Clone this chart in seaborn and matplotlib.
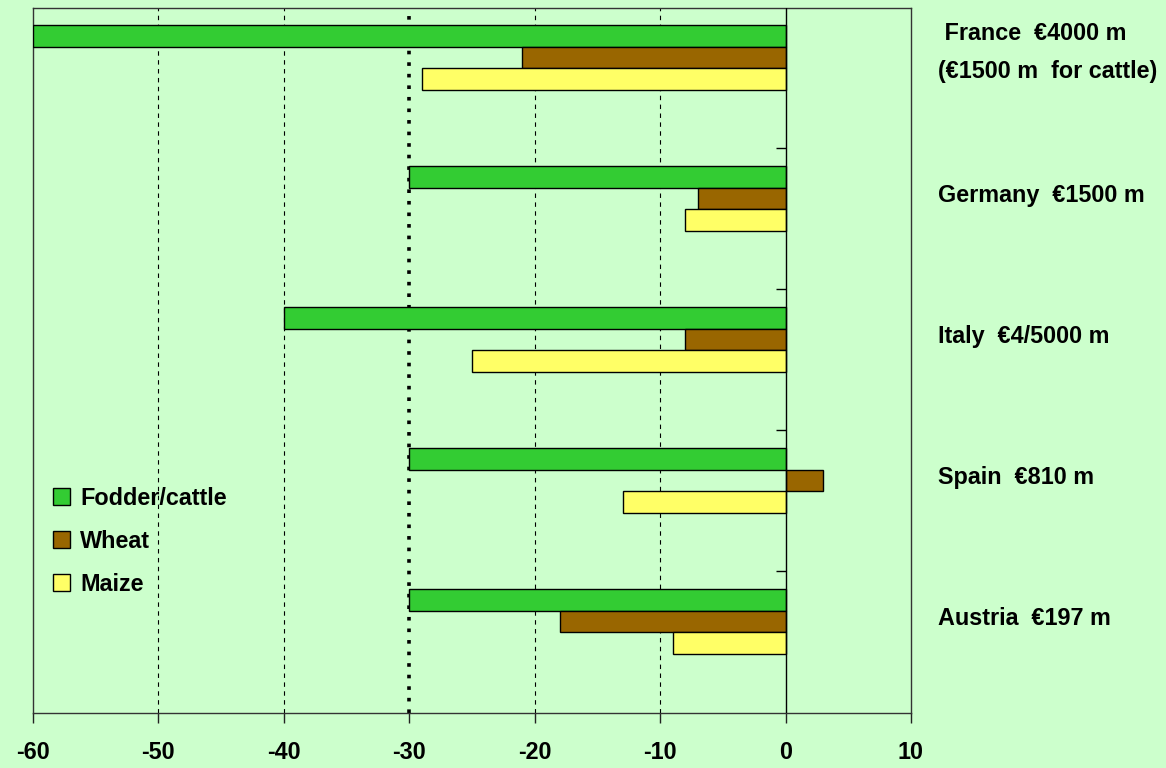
import numpy as np
import pandas as pd
import matplotlib
matplotlib.use("Agg")
import matplotlib.pyplot as plt
import matplotlib.transforms as mtransforms
import seaborn as sns

# values (% change)
countries = ["France", "Germany", "Italy", "Spain", "Austria"]
country_labels = [" France  €4000 m\n(€1500 m  for cattle)", "Germany  €1500 m",
                  "Italy  €4/5000 m", "Spain  €810 m", "Austria  €197 m"]
series = ["Fodder/cattle", "Wheat", "Maize"]
fodder = [-60, -30, -40, -30, -30]
wheat = [-21, -7, -8, 3, -18]
maize = [-29, -8, -25, -13, -9]
colors = ["#33CC33", "#996600", "#FFFF66"]
x_ticks = [-60, -50, -40, -30, -20, -10, 0, 10]

bg = "#CCFFCC"
fs = 16.8

df = pd.DataFrame({
    "country": countries * 3,
    "series": np.repeat(series, len(countries)),
    "value": fodder + wheat + maize,
})

sns.set_style("white")
plt.rcParams["font.family"] = ["Liberation Sans", "DejaVu Sans"]
plt.rcParams["text.color"] = "black"
plt.rcParams["xtick.color"] = "black"

fig = plt.figure(figsize=(11.66, 7.68), dpi=100, facecolor=bg)
ax = fig.add_axes([0.0283, 0.0716, 0.753, 0.918])
ax.set_facecolor(bg)

sns.barplot(data=df, x="value", y="country", hue="series", order=countries,
            hue_order=series, palette=colors, orient="h", width=0.46,
            edgecolor="black", linewidth=1, saturation=1, errorbar=None, ax=ax,
            zorder=3)

ax.set_xlim(-60, 10)
ax.set_ylim(4.65, -0.35)

# grid lines
for v in x_ticks[1:-2]:
    if v == -30:
        ax.axvline(v, color="black", lw=2.6, ls=(0, (1, 2.2)), zorder=1)
    else:
        ax.axvline(v, color="black", lw=0.8, ls=(0, (4, 4)), zorder=1)
ax.axvline(0, color="black", lw=1, zorder=4)

# small category separator ticks on the zero line
sep = np.arange(len(countries) - 1) + 0.643
ax.hlines(sep, -0.8, 0, color="black", lw=1, zorder=4)

ax.set_xticks(x_ticks)
ax.set_xticklabels([str(t) for t in x_ticks], fontsize=fs, fontweight="bold",
                   color="black")
ax.tick_params(axis="x", direction="out", length=7, width=1, pad=13,
               color="#222222", bottom=True)

# country labels to the right of the plot
ax.set_yticks([])
trans = mtransforms.blended_transform_factory(ax.transAxes, ax.transData)
for i, lab in enumerate(country_labels):
    y = i - 0.02 if i > 0 else -0.035
    ax.text(1.031, y, lab, transform=trans, ha="left", va="center",
            fontsize=fs, fontweight="bold", color="black", linespacing=1.8)

ax.set_xlabel("")
ax.set_ylabel("")

for s in ax.spines.values():
    s.set_visible(True)
    s.set_color("#333333")
    s.set_linewidth(1)

ax.legend(loc="lower left", bbox_to_anchor=(0.012, 0.153), frameon=False,
          borderaxespad=0, prop={"weight": "bold", "size": fs},
          handlelength=0.75, handleheight=0.75, handletextpad=0.42,
          labelspacing=0.86)

fig.savefig("out.png", dpi=100, facecolor=bg)
